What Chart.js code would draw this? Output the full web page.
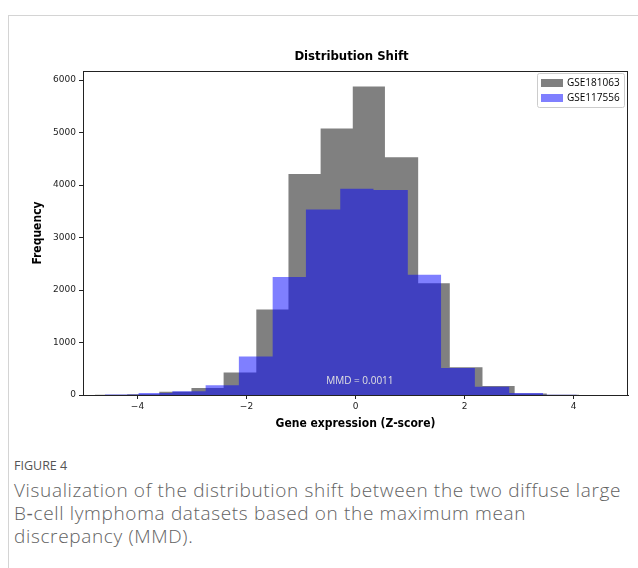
<!DOCTYPE html>
<html>
<head>
<meta charset="utf-8">
<script src="https://cdn.jsdelivr.net/npm/chart.js@4.4.0/dist/chart.umd.min.js"></script>
<style>
  body { margin:0; background:#fff; width:638px; height:568px; overflow:hidden; position:relative; font-family:'Open Sans', sans-serif; }
  .frame { position:absolute; left:8px; top:15px; width:700px; height:700px; border:1px solid #d4d4d4; box-sizing:border-box; }
  #wrap { position:absolute; left:0; top:0; width:638px; height:440px; }
  .fig { position:absolute; left:14px; top:457px; font-size:12.5px; color:#555; }
  .cap { position:absolute; left:14px; top:479px; width:612px; font-size:19px; font-weight:300; letter-spacing:0.65px; line-height:23px; color:#626262; }
</style>
</head>
<body>
<div class="frame"></div>
<div id="wrap"><canvas id="chart"></canvas></div>
<div class="fig">FIGURE 4</div>
<div class="cap">Visualization of the distribution shift between the two diffuse large B&#8209;cell lymphoma datasets based on the maximum mean discrepancy (MMD).</div>
<script>
// histogram bins
const grayLabel = 'GSE181063'
const grayEdges = [-4.78, -4.19, -3.60, -3.01, -2.42, -1.82, -1.23, -0.64, -0.05, 0.54, 1.15, 1.73, 2.33, 2.92, 3.51, 4.10]
const grayCounts = [5, 15, 60, 135, 430, 1630, 4210, 5080, 5880, 4530, 2130, 530, 170, 28, 5]

const blueLabel = 'GSE117556'
const blueEdges = [-4.60, -3.98, -3.36, -2.75, -2.14, -1.52, -0.91, -0.28, 0.33, 0.96, 1.57, 2.19, 2.82, 3.44, 4.06]
const blueCounts = [10, 40, 70, 185, 735, 2250, 3535, 3930, 3905, 2290, 515, 155, 38, 3]

const xTicks = [-4, -2, 0, 2, 4]
const yTicks = [0, 1000, 2000, 3000, 4000, 5000, 6000]
const xRange = [-5, 5]
const yMax = 6174

const titleText = 'Distribution Shift'
const xTitle = 'Gene expression (Z-score)'
const yTitle = 'Frequency'
const mmdText = 'MMD = 0.0011'
const mmdPos = [0.08, 255]

// turn bins into a stepped outline
function steps(edges, counts) {
  const pts = [{x: edges[0], y: 0}]
  counts.forEach((c, i) => pts.push({x: edges[i], y: c}))
  pts.push({x: edges[edges.length - 1], y: 0})
  return pts
}

const condensed = '"DejaVu Sans Condensed", "DejaVu Sans", sans-serif'

const decor = {
  id: 'decor',
  afterDraw(chart) {
    const {ctx, chartArea: a, scales} = chart
    ctx.save()
    // axes frame
    ctx.strokeStyle = '#222'
    ctx.lineWidth = 1
    ctx.strokeRect(a.left + 0.5, a.top + 0.5, a.right - a.left - 1, a.bottom - a.top)

    ctx.fillStyle = '#000'
    ctx.textAlign = 'center'
    ctx.textBaseline = 'middle'
    ctx.font = 'bold 13px ' + condensed
    ctx.fillText(titleText, (a.left + a.right) / 2 - 4, 57)
    ctx.font = 'bold 12px ' + condensed
    ctx.fillText(xTitle, (a.left + a.right) / 2, 424)
    ctx.save()
    ctx.translate(38, (a.top + a.bottom) / 2)
    ctx.rotate(-Math.PI / 2)
    ctx.fillText(yTitle, 0, 0)
    ctx.restore()

    // annotation
    ctx.fillStyle = '#e0e0e0'
    ctx.font = '10px "Open Sans"'
    ctx.fillText(mmdText, scales.x.getPixelForValue(mmdPos[0]), scales.y.getPixelForValue(mmdPos[1]))

    // legend
    const bx = a.right - 91, by = a.top + 2, bw = 87, bh = 34
    ctx.fillStyle = 'rgba(255,255,255,0.8)'
    ctx.strokeStyle = '#cccccc'
    ctx.beginPath()
    ctx.roundRect(bx + 0.5, by + 0.5, bw, bh, 2)
    ctx.fill()
    ctx.stroke()
    const items = [chart.data.datasets[1], chart.data.datasets[0]]
    ctx.textAlign = 'left'
    ctx.font = '10px "Open Sans"'
    items.forEach((ds, i) => {
      const y = by + 10 + i * 15
      ctx.fillStyle = ds.backgroundColor
      ctx.fillRect(bx + 4, y - 4, 22, 8)
      ctx.fillStyle = '#000'
      ctx.fillText(ds.label, bx + 30, y + 0.5)
    })
    ctx.restore()
  }
}

new Chart(document.getElementById('chart'), {
  type: 'line',
  data: {
    datasets: [{
      label: blueLabel,
      data: steps(blueEdges, blueCounts),
      backgroundColor: 'rgba(0,0,255,0.5)',
      borderWidth: 0,
      pointRadius: 0,
      stepped: true,
      fill: 'origin',
      order: 1
    }, {
      label: grayLabel,
      data: steps(grayEdges, grayCounts),
      backgroundColor: 'rgb(128,128,128)',
      borderWidth: 0,
      pointRadius: 0,
      stepped: true,
      fill: 'origin',
      order: 2
    }]
  },
  options: {
    responsive: true,
    maintainAspectRatio: false,
    animation: false,
    devicePixelRatio: 1,
    layout: {padding: {left: 0, top: 71, right: 10, bottom: 0}},
    plugins: {legend: {display: false}, tooltip: {enabled: false}, title: {display: false}},
    scales: {
      x: {
        type: 'linear',
        min: xRange[0],
        max: xRange[1],
        afterFit(s) { s.height = 45 },
        afterBuildTicks(s) { s.ticks = xTicks.map(v => ({value: v})) },
        grid: {drawOnChartArea: false, drawTicks: true, tickLength: 4, color: '#222', lineWidth: 1},
        border: {display: true, color: '#222', width: 1},
        ticks: {
          color: '#222', padding: 2, maxRotation: 0,
          font: {family: '"DejaVu Sans"', size: 9},
          callback: v => (v < 0 ? '\u2212' + Math.abs(v) : String(v))
        }
      },
      y: {
        min: 0,
        max: yMax,
        afterFit(s) { s.width = 83 },
        afterBuildTicks(s) { s.ticks = yTicks.map(v => ({value: v})) },
        grid: {drawOnChartArea: false, drawTicks: true, tickLength: 4, color: '#222', lineWidth: 1},
        border: {display: true, color: '#222', width: 1},
        ticks: {color: '#222', padding: 3, font: {family: '"DejaVu Sans"', size: 9}, callback: v => String(v)}
      }
    }
  },
  plugins: [decor]
})
</script>
</body>
</html>
